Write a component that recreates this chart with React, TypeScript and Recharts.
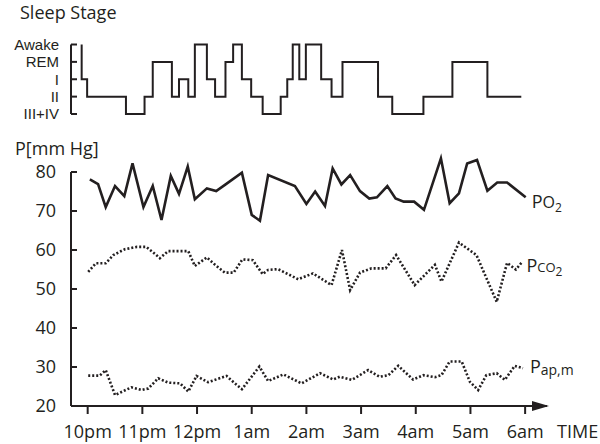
import { LineChart, Line, XAxis, YAxis, ReferenceLine } from "recharts";

// time axis: hours after 10pm
const hourTicks = [0, 1, 2, 3, 4, 5, 6, 7, 8];
const hourLabels = ["10pm", "11pm", "12pm", "1am", "2am", "3am", "4am", "5am", "6am"];
const stageLabels = ["III+IV", "II", "I", "REM", "Awake"];
const stageTicks = [0, 1, 2, 3, 4];
const pressureTicks = [20, 30, 40, 50, 60, 70, 80];

// hypnogram (stage index holds until the next time)
const stageTime = [-0.11, -0.11, -0.01, 0.7, 1.04, 1.19, 1.54, 1.67, 1.84, 1.96, 2.18, 2.33, 2.52, 2.66, 2.82, 2.99, 3.2, 3.53, 3.65, 3.75, 3.87, 3.99, 4.27, 4.46, 4.66, 5.31, 5.57, 6.14, 6.67, 7.31, 7.93];
const stage = [4, 2, 1, 0, 1, 3, 1, 2, 1, 4, 2, 1, 3, 4, 2, 1, 0, 1, 2, 4, 2, 4, 2, 1, 3, 1, 0, 1, 3, 1, 1];

const po2Time = [0.04, 0.19, 0.33, 0.5, 0.67, 0.82, 1.02, 1.19, 1.35, 1.52, 1.67, 1.83, 1.96, 2.18, 2.35, 2.51, 2.82, 3.0, 3.15, 3.3, 3.79, 4.0, 4.16, 4.34, 4.48, 4.64, 4.8, 4.98, 5.15, 5.29, 5.48, 5.63, 5.78, 5.97, 6.15, 6.46, 6.62, 6.79, 6.94, 7.12, 7.31, 7.49, 7.67, 8.01];
const po2 = [78.1, 76.9, 71, 76.4, 73.8, 82.2, 71, 76.4, 67.7, 79, 74.4, 81.4, 73, 75.8, 75.1, 76.7, 79.8, 69, 67.5, 79.2, 76.4, 71.8, 75, 71.3, 80.9, 76.8, 79.2, 75.1, 73.2, 73.5, 76.4, 73.2, 72.4, 72.4, 70.3, 83.5, 72, 74.5, 82.2, 83.1, 75.2, 77.3, 77.3, 73.5];

const pco2Time = [0.01, 0.15, 0.33, 0.47, 0.68, 0.9, 1.07, 1.23, 1.32, 1.47, 1.84, 1.96, 2.18, 2.33, 2.51, 2.67, 2.83, 3.02, 3.2, 3.3, 3.48, 3.85, 4.12, 4.46, 4.65, 4.8, 4.98, 5.19, 5.45, 5.64, 5.98, 6.35, 6.47, 6.79, 7.11, 7.48, 7.67, 7.83, 7.95];
const pco2 = [54.4, 56.6, 56.6, 58.7, 60.2, 60.8, 60.8, 59, 57.9, 59.7, 59.7, 55.9, 58.1, 56.2, 54.2, 54.2, 57.6, 57.4, 53.8, 54.9, 55.1, 52.5, 54, 51, 60, 49.7, 54.2, 55.3, 55.3, 58.7, 51, 56.2, 51.9, 61.9, 58.7, 46.7, 56.7, 55, 57];

const papTime = [0.01, 0.22, 0.33, 0.5, 0.8, 0.99, 1.11, 1.29, 1.47, 1.69, 1.84, 1.99, 2.2, 2.54, 2.66, 2.82, 3.14, 3.3, 3.58, 3.91, 4.25, 4.49, 4.61, 4.83, 5.13, 5.34, 5.5, 5.68, 5.95, 6.14, 6.35, 6.47, 6.62, 6.84, 6.99, 7.14, 7.29, 7.48, 7.63, 7.81, 7.96];
const pap = [27.8, 27.8, 29.2, 22.8, 24.8, 24.1, 24.5, 27.1, 26, 25.8, 23.7, 27.7, 26.1, 27.7, 26.2, 24.3, 30.1, 26.4, 28.1, 25.8, 28.4, 26.8, 27.5, 26.7, 29.2, 27.5, 27.9, 30.3, 26.8, 27.9, 27.4, 27.9, 31.4, 31.4, 26.2, 24.1, 27.9, 28.4, 26.7, 30.3, 29.7];

const X_DOMAIN: [number, number] = [-0.305, 8.4];
const ink = "#231f20";
const font = "'Open Sans', sans-serif";

const zip = (t: number[], v: number[]) => t.map((time, i) => ({ time, value: v[i] }));
const stageData = zip(stageTime, stage);
const po2Data = zip(po2Time, po2);
const pco2Data = zip(pco2Time, pco2);
const papData = zip(papTime, pap);

// label drawn only next to the last point of a series
const endLabel = (count: number, big: string, small: string, sub: string, dx: number, dy: number, smallSize: number, smallDy: number) =>
  (props: any) => {
    if (props.index !== count - 1) return null;
    const x = props.x ?? props.viewBox?.x;
    const y = props.y ?? props.viewBox?.y;
    return (
      <text x={x + dx} y={y + dy} fill={ink} fontSize={18} fontFamily={font}>
        {big}
        {small && <tspan fontSize={smallSize} dy={smallDy}>{small}</tspan>}
        {sub && <tspan fontSize={12} dy={4}>{sub}</tspan>}
      </text>
    );
  };

const timeLabel = (props: any) => {
  const vb = props.viewBox;
  return (
    <text x={vb.x + vb.width + 10} y={vb.y + 32} fill={ink} fontSize={18} fontFamily={font}>
      TIME
    </text>
  );
};

const tickStyle = { fill: ink, fontSize: 18, fontFamily: font };
// tighter-metric face so the closely spaced stage names do not collide
const stageTickStyle = { fill: ink, fontSize: 15, fontFamily: "'Liberation Sans', sans-serif" };
const lineStyle = { stroke: ink, strokeWidth: 2 };

export default function App() {
  return (
    <div style={{ position: "absolute", left: 0, top: 0, width: 600, height: 444, background: "#fff", fontFamily: font, color: ink }}>
      <svg width={0} height={0} style={{ position: "absolute" }}>
        <defs>
          <marker id="timeArrow" viewBox="0 0 17 10" refX={15} refY={5} markerWidth={17} markerHeight={10} markerUnits="userSpaceOnUse" orient="auto">
            <path d="M0,0 L17,5 L0,10 z" fill={ink} />
          </marker>
        </defs>
      </svg>
      <div style={{ position: "absolute", left: 20, top: 0, fontSize: 18, lineHeight: "24px" }}>Sleep Stage</div>
      <div style={{ position: "absolute", left: 15, top: 136, fontSize: 18, lineHeight: "24px" }}>P[mm Hg]</div>

      <div style={{ position: "absolute", left: 0, top: 0 }}>
        <LineChart width={600} height={130} data={stageData} margin={{ top: 44.5, right: 53, bottom: 16, left: 0 }}>
          <XAxis type="number" dataKey="time" domain={X_DOMAIN} hide />
          <YAxis
            type="number"
            domain={[0, 4]}
            ticks={stageTicks}
            interval={0}
            tickFormatter={(s: number) => stageLabels[s]}
            width={71}
            tickSize={-6}
            tickMargin={18}
            axisLine={lineStyle}
            tickLine={lineStyle}
            tick={stageTickStyle}
          />
          <Line type="stepAfter" dataKey="value" stroke={ink} strokeWidth={2} dot={false} isAnimationActive={false} />
        </LineChart>
      </div>

      <div style={{ position: "absolute", left: 0, top: 0 }}>
        <LineChart width={600} height={444} margin={{ top: 152.5, right: 53, bottom: 0, left: 0 }}>
          <XAxis
            type="number"
            dataKey="time"
            domain={X_DOMAIN}
            ticks={hourTicks}
            interval={0}
            tickFormatter={(h: number) => hourLabels[h]}
            height={38}
            tickSize={8}
            tickMargin={11}
            axisLine={{ ...lineStyle, markerEnd: "url(#timeArrow)" }}
            tickLine={lineStyle}
            tick={tickStyle}
            label={timeLabel}
          />
          <YAxis
            type="number"
            domain={[20, 85]}
            ticks={pressureTicks}
            interval={0}
            width={71}
            tickSize={-6}
            tickMargin={21}
            axisLine={false}
            tickLine={lineStyle}
            tick={tickStyle}
          />
          <ReferenceLine
            segment={[{ x: X_DOMAIN[0], y: 20 }, { x: X_DOMAIN[0], y: 80 }]}
            stroke={ink}
            strokeWidth={2}
            ifOverflow="visible"
          />
          <Line
            data={po2Data}
            dataKey="value"
            type="linear"
            stroke={ink}
            strokeWidth={2.6}
            dot={false}
            isAnimationActive={false}
            label={endLabel(po2Data.length, "P", "O", "2", 6, 11, 16, 0)}
          />
          <Line
            data={pco2Data}
            dataKey="value"
            type="linear"
            stroke={ink}
            strokeWidth={2.6}
            strokeDasharray="2 2"
            dot={false}
            isAnimationActive={false}
            label={endLabel(pco2Data.length, "P", "CO", "2", 4, 10, 13, 0)}
          />
          <Line
            data={papData}
            dataKey="value"
            type="linear"
            stroke={ink}
            strokeWidth={2.6}
            strokeDasharray="2 2"
            dot={false}
            isAnimationActive={false}
            label={endLabel(papData.length, "P", "ap,m", "", 7, 5, 14, 2)}
          />
        </LineChart>
      </div>
    </div>
  );
}
